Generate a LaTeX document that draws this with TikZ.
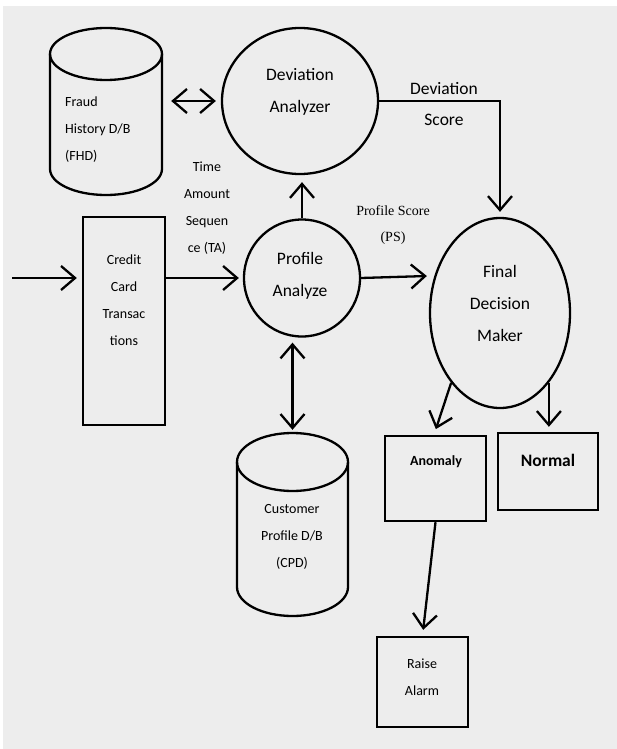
\documentclass[tikz,border=0pt]{standalone}
\usepackage{fontspec}
\setmainfont{Carlito}
\newfontfamily\psfont{Liberation Serif}
\usetikzlibrary{arrows.meta,shapes.geometric,calc}
\definecolor{bgc}{HTML}{EDEDED}
\begin{document}
\begin{tikzpicture}[x=1pt,y=-1pt,
  tip/.tip={Straight Barb[length=14pt,width=24pt]},
  arr/.style={line width=2.3pt,-tip},
  dblarr/.style={line width=2.3pt,tip-tip},
  bigtxt/.style={font=\fontsize{17.5}{32}\selectfont,align=center,inner sep=0},
  smalltxt/.style={font=\fontsize{14}{27}\selectfont,align=center,inner sep=0},
  proc/.style={ellipse,draw,line width=2.3pt,inner sep=0},
  boxn/.style={rectangle,draw,line width=2.4pt,inner sep=0},
  hold/.style={rectangle,inner sep=0},
  cyl/.style={line width=2.3pt}]
\useasboundingbox (0,0) rectangle (616,749);
\fill[white] (0,0) rectangle (616,749);
\fill[bgc] (3,6) rectangle (617,750);

% Fraud History cylinder
\draw[cyl] (106,54) ellipse [x radius=56, y radius=26];
\draw[cyl] (50,54) -- (50,169) arc [start angle=180, end angle=360, x radius=56, y radius=-26] -- (162,54);
\node[hold,minimum width=112pt,minimum height=167pt] (fhd) at (106,111.5) {};
\node[smalltxt,align=left,anchor=west] (fhdt) at (65,130) {Fraud\\History D/B\\(FHD)};

% Customer Profile cylinder
\draw[cyl] (292.5,462) ellipse [x radius=55.5, y radius=29];
\draw[cyl] (237,462) -- (237,587) arc [start angle=180, end angle=360, x radius=55.5, y radius=-29] -- (348,462);
\node[hold,minimum width=111pt,minimum height=183pt] (cpd) at (292.5,524.5) {};
\node[smalltxt] (cpdt) at (292,537) {Customer\\Profile D/B\\(CPD)};

% Processes
\node[proc,minimum width=156pt,minimum height=146pt] (dev) at (300,101) {};
\node[bigtxt] (devt) at (300,92) {Deviation\\Analyzer};
\node[proc,minimum width=116pt,minimum height=117pt] (prof) at (302,278) {};
\node[bigtxt] (proft) at (300,276) {Profile\\Analyze};
\node[proc,minimum width=140pt,minimum height=190pt] (fin) at (500,313) {};
\node[bigtxt] (fint) at (500,303) {Final\\Decision\\Maker};

% Boxes
\node[boxn,minimum width=82pt,minimum height=208pt] (cct) at (124,321) {};
\node[smalltxt] (cctt) at (124,300) {Credit\\Card\\Transac\\tions};
\node[boxn,minimum width=101pt,minimum height=85pt] (anom) at (435.5,478.5) {};
\node[font=\fontsize{14}{27}\selectfont\bfseries,inner sep=0] (anomt) at (436,462) {Anomaly};
\node[boxn,minimum width=100pt,minimum height=77pt] (norm) at (548,471.5) {};
\node[font=\fontsize{17.5}{27}\selectfont\bfseries,inner sep=0] (normt) at (548,460) {Normal};
\node[boxn,minimum width=91pt,minimum height=90pt] (alarm) at (422.5,682) {};
\node[smalltxt] (alarmt) at (422,677) {Raise\\Alarm};

% Labels
\node[smalltxt] (ta) at (207,208) {Time\\Amount\\Sequen\\ce (TA)};
\node[font=\psfont\fontsize{14}{26}\selectfont,align=center,inner sep=0] (ps) at (393,225) {Profile Score\\(PS)};
\node[bigtxt,font=\fontsize{17.5}{31}\selectfont] (ds) at (444,104) {Deviation\\Score};

% Connectors
\coordinate (in) at (12,278);
\draw[arr,shorten >=5pt] (in) -- (in -| cct.west);
\draw[arr,shorten >=4pt] (in -| cct.east) -- (prof.west);
\draw[arr,shorten >=7pt] (prof.north) -- (prof.north |- dev.south);
\draw[arr] (prof.east) -- ($(prof.east -| fin.west)+(-2,-2)$);
\draw[arr,shorten >=5pt] (dev.east) -| (fin.north);
\draw[dblarr,shorten <=9pt,shorten >=5pt] (fhd.east |- dev.west) -- (dev.west);
\draw[dblarr,shorten <=5pt,shorten >=3pt] (cpd.north |- prof.south) -- (cpd.north);
\draw[arr,shorten >=6pt] (fin.235) -- ($(anom.north)+(-1.5,0)$);
\draw[arr,shorten >=5pt] (fin.-55) -- (fin.-55 |- norm.north);
\draw[arr,shorten >=6pt] (anom.south) -- (alarm.north);
\end{tikzpicture}
\end{document}
